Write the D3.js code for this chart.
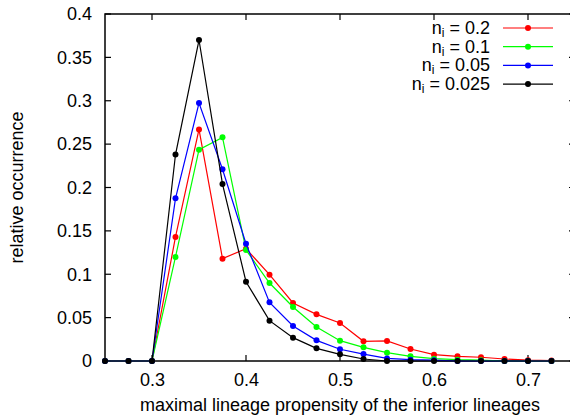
<!DOCTYPE html>
<html><head><meta charset="utf-8">
<script src="https://cdn.jsdelivr.net/npm/d3@7"></script>
<style>body{margin:0;background:#fff}svg{display:block}text{font-family:"Liberation Sans",Arial,sans-serif}</style>
</head><body><svg id="c" width="570" height="419"></svg>
<script>
const xs = [0.25,0.275,0.3,0.325,0.35,0.375,0.4,0.425,0.45,0.475,0.5,0.525,0.55,0.575,0.6,0.625,0.65,0.675,0.7,0.725];
const red   = [0,0,0,0.143,0.267,0.118,0.1295,0.0995,0.0669,0.0538,0.0438,0.0227,0.0231,0.0138,0.0073,0.0054,0.0043,0.0023,0.001,0.0005];
const green = [0,0,0,0.120,0.2436,0.2578,0.128,0.0899,0.0622,0.0392,0.0234,0.0158,0.0096,0.0054,0.0027,0.0015,0.001,0,0,0];
const blue  = [0,0,0,0.1875,0.2974,0.221,0.1352,0.0676,0.0403,0.0238,0.0135,0.008,0.003,0.0015,0.001,0,0,0,0,0];
const black = [0,0,0,0.238,0.370,0.204,0.0914,0.0465,0.0269,0.0146,0.0077,0.0023,0,0,0,0,0,0,0,0];
const seriesNames = ["0.2","0.1","0.05","0.025"];
const seriesColors = ["#ff0000","#00ff00","#0000ff","#000000"];
const xTicks = [0.3,0.4,0.5,0.6,0.7];
const yTicks = [0,0.05,0.1,0.15,0.2,0.25,0.3,0.35,0.4];
const xLabel = "maximal lineage propensity of the inferior lineages";
const yLabel = "relative occurrence";

const svg = d3.select("#c");
const L=105, R=575, T=14, B=361;
const x = d3.scaleLinear().domain([0.25,0.75]).range([L,R]);
const y = d3.scaleLinear().domain([0,0.4]).range([B,T]);

svg.append("rect").attr("x",L).attr("y",T).attr("width",R-L).attr("height",B-T)
  .attr("fill","none").attr("stroke","#000").attr("stroke-width",1.5);

const fmt = d => String(+d.toFixed(2));
const ya = d3.axisLeft(y).tickValues(yTicks).tickSize(0).tickPadding(13).tickFormat(fmt);
const gy = svg.append("g").attr("transform",`translate(${L},0)`).call(ya);
gy.select(".domain").remove();
gy.selectAll("text").attr("font-size",18).attr("fill","#000").style("font-family","Liberation Sans, Arial, sans-serif");
yTicks.forEach(t=>{
  svg.append("line").attr("x1",L).attr("x2",L+6).attr("y1",y(t)).attr("y2",y(t)).attr("stroke","#000").attr("stroke-width",1.2);
  svg.append("line").attr("x1",R).attr("x2",R-6).attr("y1",y(t)).attr("y2",y(t)).attr("stroke","#000").attr("stroke-width",1.2);
});
const xa = d3.axisBottom(x).tickValues(xTicks).tickSize(0).tickPadding(12).tickFormat(fmt);
const gx = svg.append("g").attr("transform",`translate(0,${B})`).call(xa);
gx.select(".domain").remove();
gx.selectAll("text").attr("font-size",18).attr("fill","#000").style("font-family","Liberation Sans, Arial, sans-serif");
xTicks.forEach(t=>{
  svg.append("line").attr("x1",x(t)).attr("x2",x(t)).attr("y1",B).attr("y2",B-6).attr("stroke","#000").attr("stroke-width",1.2);
  svg.append("line").attr("x1",x(t)).attr("x2",x(t)).attr("y1",T).attr("y2",T+6).attr("stroke","#000").attr("stroke-width",1.2);
});

const allSeries = [red,green,blue,black];
const line = d3.line().x((d,i)=>x(xs[i])).y(d=>y(d));
allSeries.forEach((s,k)=>{
  const g = svg.append("g");
  g.append("path").attr("d",line(s)).attr("fill","none").attr("stroke",seriesColors[k]).attr("stroke-width",1.2);
  g.selectAll("circle").data(s).join("circle").attr("cx",(d,i)=>x(xs[i])).attr("cy",d=>y(d)).attr("r",3).attr("fill",seriesColors[k]);
});

const ly0 = 28, ldy = 18.7;
seriesNames.forEach((n,k)=>{
  const yy = ly0 + k*ldy;
  const t = svg.append("text").attr("x",490).attr("y",yy+6).attr("text-anchor","end").attr("font-size",18).attr("fill","#000");
  t.append("tspan").text("n");
  t.append("tspan").attr("font-size",12).attr("dy",3).text("i");
  t.append("tspan").attr("dy",-3).text(" = "+n);
  svg.append("line").attr("x1",503).attr("x2",553).attr("y1",yy).attr("y2",yy).attr("stroke",seriesColors[k]).attr("stroke-width",1.2);
  svg.append("circle").attr("cx",528).attr("cy",yy).attr("r",3).attr("fill",seriesColors[k]);
});

svg.append("text").attr("x",340).attr("y",411).attr("text-anchor","middle").attr("font-size",18).attr("fill","#000").text(xLabel);
svg.append("text").attr("transform",`translate(23,${(T+B)/2}) rotate(-90)`).attr("text-anchor","middle").attr("font-size",18).attr("fill","#000").text(yLabel);
</script></body></html>
